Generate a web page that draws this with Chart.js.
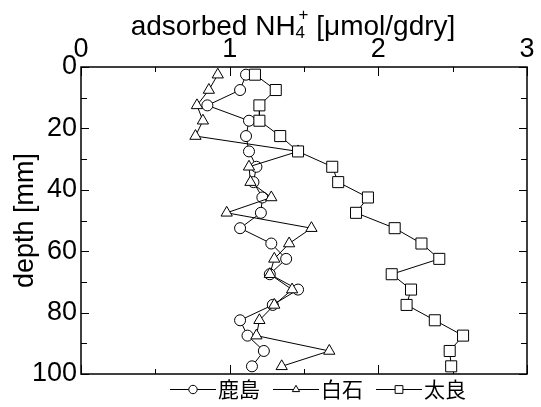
<!DOCTYPE html>
<html>
<head>
<meta charset="utf-8">
<script src="https://cdn.jsdelivr.net/npm/chart.js@4"></script>
<style>
  html, body { margin: 0; padding: 0; background: #fff; }
  #wrap { width: 541px; height: 407px; }
</style>
</head>
<body>
<div id="wrap"><canvas id="myChart"></canvas></div>
<script>
// 深さ [mm] と各地点の吸着NH4+ [μmol/gdry]
const depth = [2.5, 7.5, 12.5, 17.5, 22.5, 27.5, 32.5, 37.5, 42.5, 47.5,
               52.5, 57.5, 62.5, 67.5, 72.5, 77.5, 82.5, 87.5, 92.5, 97.5];
const kashima = [1.11, 1.07, 0.85, 1.13, 1.11, 1.13, 1.18, 1.16, 1.22, 1.21,
                 1.07, 1.28, 1.38, 1.27, 1.46, 1.29, 1.07, 1.12, 1.23, 1.15];
const shiraishi = [0.92, 0.86, 0.78, 0.82, 0.77, 1.46, 1.13, 1.14, 1.28, 0.98,
                   1.55, 1.40, 1.30, 1.27, 1.42, 1.30, 1.20, 1.18, 1.67, 1.35];
const tara = [1.17, 1.31, 1.20, 1.20, 1.34, 1.46, 1.69, 1.73, 1.93, 1.85,
              2.11, 2.29, 2.41, 2.09, 2.22, 2.19, 2.38, 2.57, 2.48, 2.49];
const siteNames = ['鹿島', '白石', '太良'];
const xLabels = [0, 1, 2, 3];
const yLabels = [0, 20, 40, 60, 80, 100];

const FONT = 'Liberation Sans, Arial, sans-serif';

function toPoints(vals) {
  return vals.map((v, i) => ({ x: v, y: depth[i] }));
}

function series(label, vals, style, r, order) {
  return {
    label: label,
    data: toPoints(vals),
    showLine: true,
    borderColor: '#000',
    borderWidth: 1,
    backgroundColor: '#fff',
    pointStyle: style,
    pointRadius: r,
    pointBorderColor: '#000',
    pointBackgroundColor: '#fff',
    pointBorderWidth: 1,
    order: order
  };
}

// 枠と内向きの目盛り、x軸タイトル、凡例
const frameTicks = {
  id: 'frameTicks',
  beforeDatasetsDraw(chart) {
    const { ctx, chartArea: a, scales: { x, y } } = chart;
    ctx.save();
    ctx.strokeStyle = '#000';
    ctx.lineWidth = 1;
    ctx.beginPath();
    x.ticks.forEach(t => {
      const px = Math.round(x.getPixelForValue(t.value)) + 0.5;
      const len = xLabels.includes(t.value) ? 9 : 5;
      ctx.moveTo(px, a.top); ctx.lineTo(px, a.top + len);
      ctx.moveTo(px, a.bottom); ctx.lineTo(px, a.bottom - len);
    });
    y.ticks.forEach(t => {
      const py = Math.round(y.getPixelForValue(t.value)) + 0.5;
      const len = yLabels.includes(t.value) ? 8 : 6;
      ctx.moveTo(a.left, py); ctx.lineTo(a.left + len, py);
      ctx.moveTo(a.right, py); ctx.lineTo(a.right - len, py);
    });
    ctx.stroke();
    ctx.lineWidth = 1.5;
    ctx.strokeRect(a.left, a.top, a.right - a.left, a.bottom - a.top);
    ctx.restore();
  },
  afterDraw(chart) {
    const { ctx, chartArea: a } = chart;
    ctx.save();
    ctx.fillStyle = '#000';
    ctx.textBaseline = 'alphabetic';

    // x軸タイトル（NH4+ は下付き・上付き）
    const size = 28, small = 17;
    const parts = [
      { t: 'adsorbed NH', f: size, dy: 0, dx: 0 },
      { t: '4', f: small, dy: 3, dx: 0 },
      { t: '+', f: small, dy: -15, dx: 3 },
      { t: ' [', f: size, dy: 0, dx: 0 },
      { t: 'μ', f: size, dy: 0, dx: 0 },
      { t: 'mol/gdry]', f: size, dy: 0, dx: 0 }
    ];
    parts.forEach(p => {
      ctx.font = p.f + 'px ' + FONT;
      p.w = ctx.measureText(p.t).width;
    });
    const subW = Math.max(parts[1].w, parts[2].w + 3);
    const w = parts[0].w + subW + parts[3].w + parts[4].w + parts[5].w;
    let cx = (a.left + a.right) / 2 - 11 - w / 2;
    const base = 35;
    parts.forEach((p, i) => {
      ctx.font = p.f + 'px ' + FONT;
      ctx.fillText(p.t, cx + p.dx, base + p.dy);
      if (i === 2) cx += subW;
      else if (i !== 1) cx += p.w;
    });

    // 凡例
    let lx = 170;
    const ly = 389;
    ctx.textBaseline = 'middle';
    ctx.font = '21px "Noto Sans CJK JP", sans-serif';
    chart.data.datasets.forEach(ds => {
      ctx.strokeStyle = '#000';
      ctx.lineWidth = 1;
      ctx.beginPath();
      ctx.moveTo(lx, ly + 0.5);
      ctx.lineTo(lx + 46, ly + 0.5);
      ctx.stroke();
      ctx.fillStyle = '#fff';
      Chart.helpers.drawPoint(ctx, {
        pointStyle: ds.pointStyle,
        radius: ds.pointStyle === 'rect' ? 5.5 : 4.2,
        borderWidth: 1,
        rotation: 0
      }, lx + 23, ly + 0.5);
      ctx.fillStyle = '#000';
      ctx.fillText(ds.label, lx + 48, ly);
      lx += 48 + ctx.measureText(ds.label).width + 13;
    });
    ctx.restore();
  }
};

const ctx = document.getElementById('myChart');

new Chart(ctx, {
  type: 'scatter',
  data: {
    datasets: [
      series(siteNames[0], kashima, 'circle', 5.5, 2),
      series(siteNames[1], shiraishi, 'triangle', 6.5, 1),
      series(siteNames[2], tara, 'rect', 7.8, 0)
    ]
  },
  options: {
    responsive: true,
    maintainAspectRatio: false,
    animation: false,
    layout: { padding: { left: 0, top: 0, right: 14, bottom: 33 } },
    plugins: {
      legend: { display: false },
      tooltip: { enabled: false }
    },
    scales: {
      x: {
        type: 'linear',
        position: 'top',
        min: 0,
        max: 3,
        grid: { display: false, drawTicks: false },
        border: { display: false },
        ticks: {
          stepSize: 0.5,
          autoSkip: false,
          maxRotation: 0,
          padding: 1,
          color: '#000',
          font: { family: FONT, size: 27 },
          callback: v => (xLabels.includes(v) ? String(v) : '')
        },
        afterFit: s => { s.height = 67; }
      },
      y: {
        type: 'linear',
        reverse: true,
        min: 0,
        max: 100,
        grid: { display: false, drawTicks: false },
        border: { display: false },
        ticks: {
          stepSize: 10,
          autoSkip: false,
          padding: 4,
          color: '#000',
          font: { family: FONT, size: 27 },
          callback: v => (yLabels.includes(v) ? String(v) : '')
        },
        title: {
          display: true,
          text: 'depth [mm]',
          color: '#000',
          font: { family: FONT, size: 27 },
          padding: { top: 9, bottom: 0 }
        },
        afterFit: s => { s.width = 81; }
      }
    }
  },
  plugins: [frameTicks]
});
</script>
</body>
</html>
